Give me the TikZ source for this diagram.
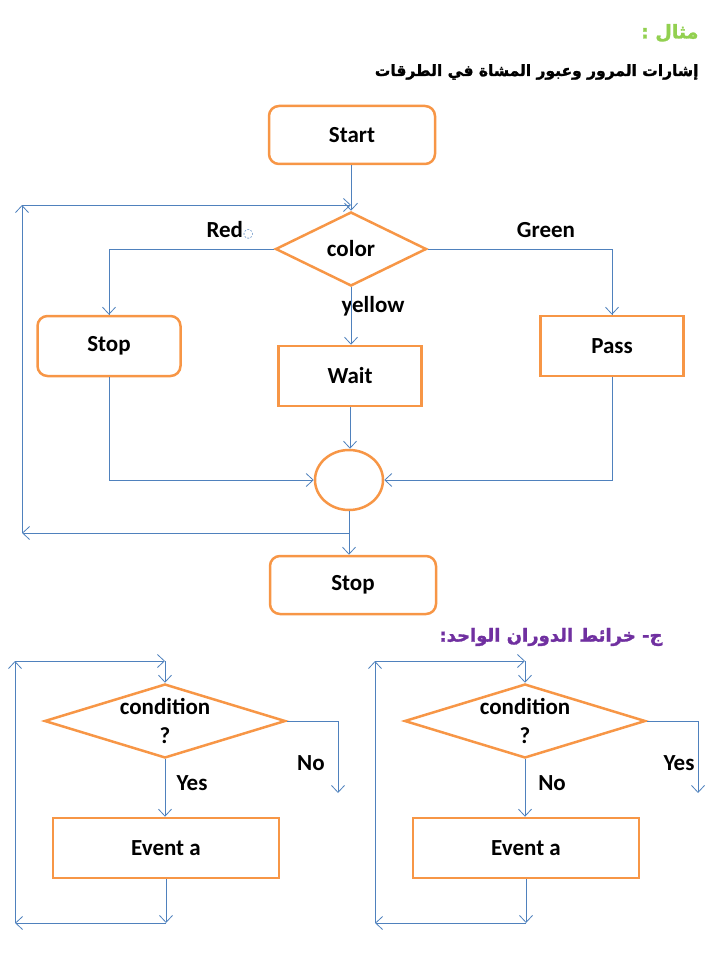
\documentclass[tikz,border=0pt]{standalone}
\usepackage{fontspec}
\setmainfont{Carlito}
\newfontfamily\arabicfont[Script=Arabic,FakeBold=1.6]{DejaVu Sans}
\newfontfamily\markfont{DejaVu Sans}
\TeXXeTstate=1
\usetikzlibrary{shapes.geometric,arrows.meta}
\definecolor{boxorange}{RGB}{247,150,70}
\definecolor{linkblue}{RGB}{79,129,189}
\definecolor{titlegreen}{RGB}{146,208,80}
\definecolor{headpurple}{RGB}{112,48,160}
\begin{document}
\begin{tikzpicture}[x=1pt,y=-1pt,
    font=\fontsize{23}{28}\selectfont\bfseries,
    roundbox/.style={draw=boxorange, line width=2.5pt, rounded corners=10pt, minimum width=166pt, minimum height=58pt},
    sidebox/.style={draw=boxorange, line width=2.5pt, rounded corners=10pt, minimum width=143pt, minimum height=60pt},
    flatbox/.style={draw=boxorange, line width=2.5pt, minimum width=143pt, minimum height=60pt},
    eventbox/.style={draw=boxorange, line width=2.5pt, minimum width=226pt, minimum height=60pt},
    decision/.style={diamond, draw=boxorange, line width=2.5pt, inner sep=0pt},
    link/.style={draw=linkblue, line width=0.8pt, -{Straight Barb[length=7pt,width=13pt]}},
    plain/.style={draw=linkblue, line width=0.8pt}]
  \useasboundingbox (0,0) rectangle (720,960);

  % headings
  \node[anchor=east, text=titlegreen] (exhead) at (702,33)
    {\arabicfont\fontsize{19}{22}\selectfont\beginR مثال :\endR};
  \node[anchor=east] (extitle) at (702,72)
    {\arabicfont\fontsize{15.5}{22}\selectfont\beginR إشارات المرور وعبور المشاة في الطرقات\endR};

  % traffic flowchart
  \node[roundbox] (start) at (352,135) {Start};
  \node[decision, minimum width=151pt, minimum height=74pt,
    label={center:color}] (color) at (351,249) {};
  \node[sidebox] (stopa) at (109,346) {Stop};
  \node[flatbox] (wait) at (350,376) {Wait};
  \node[flatbox] (pass) at (612,346) {Pass};
  \node[ellipse, draw=boxorange, line width=2.5pt, minimum width=68pt, minimum height=60pt] (merge) at (349,480) {};
  \node[roundbox] (stopb) at (353,585) {Stop};

  \node (red) at (230,230) {Red{\markfont\fontsize{12}{12}\selectfont\textcolor{linkblue}{◌}}};
  \node (green) at (546,230) {Green};
  \node (yellow) at (373,306) {yellow};

  \coordinate (lt) at (22,205);
  \coordinate (lb) at (22,533);
  \coordinate (jn) at (349,533);

  \draw[link] (start.south) -- (start.south -| color.north) -- (color.north);
  \draw[plain] (color.west) -| (stopa.north);
  \draw[link] (stopa.north) ++(0,-1) -- (stopa.north);
  \draw[plain] (color.east) -| (pass.north);
  \draw[link] (pass.north) ++(0,-1) -- (pass.north);
  \draw[link] (color.south) -- (color.south |- wait.north);
  \draw[link] (wait.south) -- (wait.south |- merge.north);
  \draw[link] (stopa.south) |- (merge.west);
  \draw[link] (pass.south) |- (merge.east);
  \draw[link] (merge.south) -- (merge.south |- stopb.north);
  \draw[link] (jn) -- (lb);
  \draw[link] (lb) -- (lt);
  \draw[link] (lt) -- (color.north |- lt);

  % single loop charts
  \node[anchor=east, text=headpurple] (loophead) at (666,637)
    {\arabicfont\fontsize{18}{22}\selectfont\beginR ج- خرائط الدوران الواحد:\endR};

  \foreach \dx/\nm/\down/\side/\sx in {0/l/Yes/No/311, 360/r/No/Yes/319}{
    \begin{scope}[xshift=\dx]
      \node[decision, minimum width=241pt, minimum height=74pt,
        label={[align=center, font=\fontsize{23}{29}\selectfont\bfseries]center:condition\\?}] (cond\nm) at (165,721) {};
      \node[eventbox] (event\nm) at (166,848) {Event a};
      \coordinate (top\nm) at (15,661);
      \coordinate (bot\nm) at (15,923);
      \coordinate (out\nm) at (338,793);
      \draw[link] (top\nm) -- (cond\nm.north |- top\nm);
      \draw[link] (cond\nm.north |- top\nm) -- (cond\nm.north);
      \draw[link] (cond\nm.south) -- (cond\nm.south |- event\nm.north);
      \draw[link] (event\nm.south) -- (event\nm.south |- bot\nm);
      \draw[link] (event\nm.south |- bot\nm) -- (bot\nm);
      \draw[link] (bot\nm) -- (top\nm);
      \draw[link] (cond\nm.east) -| (out\nm);
      \node (downlbl\nm) at (192,783) {\down};
      \node (sidelbl\nm) at (\sx,763) {\side};
    \end{scope}
  }
\end{tikzpicture}
\end{document}
